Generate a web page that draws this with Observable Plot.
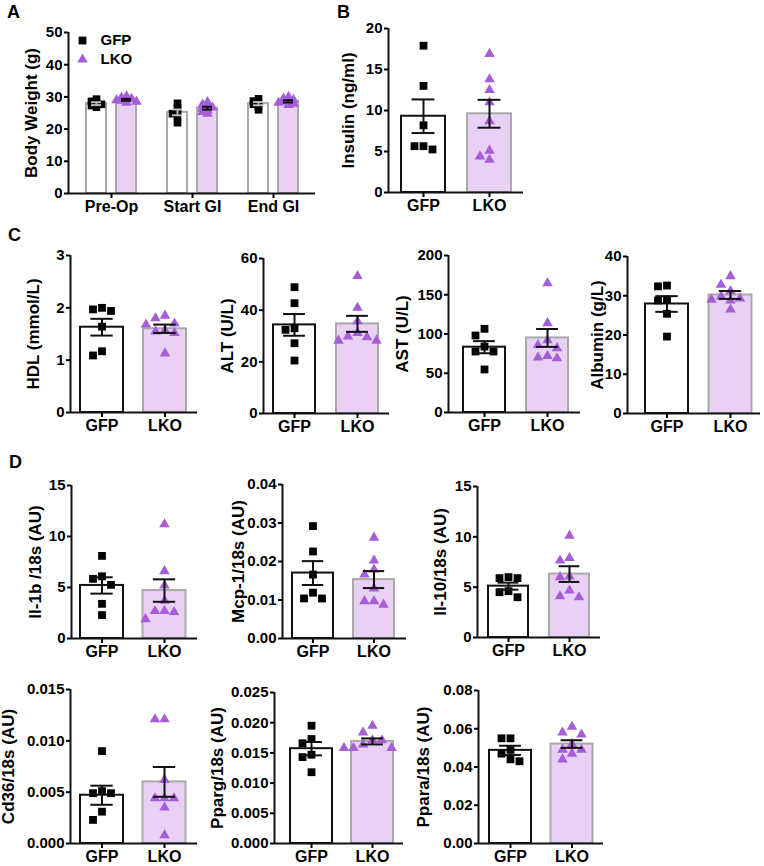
<!DOCTYPE html>
<html><head><meta charset="utf-8">
<script src="https://cdn.jsdelivr.net/npm/d3@7"></script>
<script src="https://cdn.jsdelivr.net/npm/@observablehq/plot@0.6"></script>
<style>
body{margin:0;background:#fff;}
#fig{position:relative;width:764px;height:866px;overflow:hidden;font-family:"Liberation Sans",Arial,sans-serif;font-weight:bold;color:#000;background:#fff}
.letter{position:absolute;font-size:18px;line-height:18px;font-weight:bold}
</style></head><body><div id="fig"></div>
<script>
// ---------------- DATA ----------------
const groups = ["GFP", "LKO"];
const timepoints = ["Pre-Op", "Start GI", "End GI"];
const panelLetters = ["A", "B", "C", "D"];

// A: body weight
const weightLabel = "Body Weight (g)";
const weightTicks = [0, 10, 20, 30, 40, 50];
const weightGFP = [[26.8, 27.3, 27.7, 28.1, 28.6, 29.3], [22.0, 23.8, 24.8, 25.6, 26.6, 28.0], [26.0, 27.0, 27.7, 28.3, 28.7, 29.4]];
const weightLKO = [[28.2, 28.5, 28.8, 29.0, 29.2, 29.4, 29.8, 30.2], [24.8, 25.3, 25.8, 26.3, 26.7, 27.2, 27.6, 28.4], [27.5, 27.9, 28.2, 28.5, 28.8, 29.1, 29.5, 30.0]];
const weightMeanGFP = [27.9, 25.2, 27.9];
const weightMeanLKO = [29.1, 26.5, 28.6];
const weightSemGFP = [0.45, 0.9, 0.5];
const weightSemLKO = [0.3, 0.45, 0.35];

// B: insulin
const insulinLabel = "Insulin (ng/ml)";
const insulinTicks = [0, 5, 10, 15, 20];
const insulinGFP = [17.9, 13.0, 8.2, 5.65, 5.25, 5.65];
const insulinLKO = [16.9, 13.8, 12.5, 11.0, 8.7, 5.1, 4.0, 4.4];
const insulinMean = [9.3, 9.6];
const insulinSem = [2.05, 1.7];

// C
const hdlLabel = "HDL (mmol/L)";
const hdlTicks = [0, 1, 2, 3];
const hdlGFP = [2.0, 1.94, 1.97, 1.64, 1.09, 1.17];
const hdlLKO = [1.85, 1.80, 1.70, 1.68, 1.57, 1.55, 1.52, 1.13];
const hdlMean = [1.63, 1.60];
const hdlSem = [0.16, 0.08];

const altLabel = "ALT (U/L)";
const altTicks = [0, 20, 40, 60];
const altGFP = [48.9, 42.7, 33.0, 32.4, 27.2, 20.5];
const altLKO = [53.2, 40.9, 35.7, 31.2, 29.8, 29.5, 28.2, 28.2];
const altMean = [34.3, 34.7];
const altSem = [4.2, 3.1];

const astLabel = "AST (U/L)";
const astTicks = [0, 50, 100, 150, 200];
const astGFP = [106.6, 98.1, 84.0, 77.7, 77.7, 54.8];
const astLKO = [164.7, 113.8, 92, 86, 82, 72, 69, 70];
const astMean = [83.2, 95.0];
const astSem = [7.7, 11.4];

const albLabel = "Albumin (g/L)";
const albTicks = [0, 10, 20, 30, 40];
const albGFP = [32.6, 32.4, 28.8, 29.0, 25.4, 19.6];
const albLKO = [35.0, 32.8, 31.2, 29.8, 29.3, 29.0, 28.8, 26.5];
const albMean = [27.9, 30.2];
const albSem = [2.0, 1.0];

// D
const il1bLabel = "Il-1b /18s (AU)";
const il1bTicks = [0, 5, 10, 15];
const il1bGFP = [8.1, 6.1, 5.85, 5.26, 3.4, 2.3];
const il1bLKO = [11.2, 6.6, 5.2, 3.7, 2.7, 2.6, 2.7, 1.9];
const il1bMean = [5.2, 4.7];
const il1bSem = [0.8, 1.1];

const mcp1Label = "Mcp-1/18s (AU)";
const mcp1Ticks = [0, 0.01, 0.02, 0.03, 0.04];
const mcp1GFP = [0.0292, 0.0226, 0.0166, 0.0119, 0.0104, 0.0104];
const mcp1LKO = [0.0262, 0.0203, 0.0179, 0.0166, 0.013, 0.0097, 0.0088, 0.0097];
const mcp1Mean = [0.0170, 0.0153];
const mcp1Sem = [0.0031, 0.0022];

const il10Label = "Il-10/18s (AU)";
const il10Ticks = [0, 5, 10, 15];
const il10GFP = [6.0, 5.9, 5.9, 4.6, 4.5, 4.0];
const il10LKO = [10.1, 7.65, 7.9, 6.06, 6.0, 4.67, 4.0, 4.1];
const il10Mean = [5.1, 6.3];
const il10Sem = [0.35, 0.78];

const cd36Label = "Cd36/18s (AU)";
const cd36Ticks = [0, 0.005, 0.010, 0.015];
const cd36GFP = [0.0090, 0.0049, 0.0051, 0.0049, 0.0031, 0.0023];
const cd36LKO = [0.0121, 0.0121, 0.0062, 0.0044, 0.0044, 0.0044, 0.0035, 0.0008];
const cd36Mean = [0.0047, 0.0060];
const cd36Sem = [0.00093, 0.00145];

const ppargLabel = "Pparg/18s (AU)";
const ppargTicks = [0, 0.005, 0.010, 0.015, 0.020, 0.025];
const ppargGFP = [0.0195, 0.0173, 0.0166, 0.0147, 0.0143, 0.0118];
const ppargLKO = [0.0195, 0.0184, 0.0171, 0.0171, 0.0164, 0.0158, 0.0158, 0.0158];
const ppargMean = [0.0157, 0.0169];
const ppargSem = [0.0011, 0.0005];

const pparaLabel = "Ppara/18s (AU)";
const pparaTicks = [0, 0.02, 0.04, 0.06, 0.08];
const pparaGFP = [0.055, 0.055, 0.049, 0.047, 0.044, 0.043];
const pparaLKO = [0.061, 0.058, 0.057, 0.052, 0.049, 0.049, 0.047, 0.044];
const pparaMean = [0.0487, 0.0520];
const pparaSem = [0.0024, 0.002];

// ---------------- STYLE / LAYOUT ----------------
const FONT = '"Liberation Sans", Arial, sans-serif';
const LAV = "#e9d1f6";
const PURPLE = "#a65ed8";
const GRAY = "#a9a9a9";
const INK = "#111";

const fig = document.getElementById("fig");
const ML = 80, MT = 14, MB = 36, MR = 6;

function place(geom, ymax, xdomain, marks) {
  const W = ML + (geom.ae - geom.ax) + MR;
  const H = MT + (geom.yz - geom.yt) + MB;
  const svg = Plot.plot({
    width: W, height: H,
    marginLeft: ML, marginRight: MR, marginTop: MT, marginBottom: MB,
    x: {type: "linear", domain: xdomain},
    y: {type: "linear", domain: [0, ymax]},
    style: {background: "transparent", overflow: "visible", fontFamily: FONT, fontWeight: "bold", color: "#000", maxWidth: "none"},
    marks
  });
  svg.style.position = "absolute";
  svg.style.left = (geom.ax - ML) + "px";
  svg.style.top = (geom.yt - MT) + "px";
  fig.appendChild(svg);
}

// simple deterministic dodge so that markers do not overlap (layout only)
function dodge(values, center, pxY, pxX, mX, mY) {
  const order = values.map((v, i) => i).sort((a, b) => values[b] - values[a]);
  const placed = [];
  const out = new Array(values.length);
  for (const i of order) {
    const py = values[i] * pxY;
    for (let k = 0; k < 50; k++) {
      const off = k === 0 ? 0 : (k % 2 ? -1 : 1) * Math.ceil(k / 2) * mX;
      if (placed.every(p => Math.abs(p.px - off) >= mX - 0.01 || Math.abs(p.py - py) >= mY - 0.01)) {
        placed.push({px: off, py});
        out[i] = {x: center + off / pxX, v: values[i]};
        break;
      }
    }
  }
  return out;
}

function errorbars(bars, xf, cap, color) {
  return [
    Plot.ruleX(bars, {x: xf, y1: d => d.mean - d.sem, y2: d => d.mean + d.sem, stroke: color, strokeWidth: 2}),
    Plot.ruleY(bars, {y: d => d.mean + d.sem, x1: d => xf(d) - cap, x2: d => xf(d) + cap, stroke: color, strokeWidth: 2}),
    Plot.ruleY(bars, {y: d => d.mean - d.sem, x1: d => xf(d) - cap, x2: d => xf(d) + cap, stroke: color, strokeWidth: 2})
  ];
}

function axes(lo, ticks, fmt, xticks, xfmt, g, label) {
  return [
    Plot.ruleY([0], {strokeWidth: 2, stroke: INK}),
    Plot.ruleX([lo], {strokeWidth: 2, stroke: INK}),
    Plot.axisY({ticks, tickFormat: fmt, tickSize: 4, tickPadding: 2, fontSize: 15, strokeWidth: 2, label: null}),
    Plot.axisX({ticks: xticks, tickFormat: xfmt, tickSize: 5, tickPadding: 2, fontSize: 16, strokeWidth: 2, label: null}),
    Plot.text([label], {text: d => d, frameAnchor: "left", dx: -(g.ax - g.lx), rotate: -90, fontSize: 17, textAnchor: "middle", lineAnchor: "middle"})
  ];
}

function twoGroup(p) {
  const g = p.geom;
  const s = g.c2 - g.c1;
  const lo = -(g.c1 - g.ax) / s, hi = 1 + (g.ae - g.c2) / s;
  const ymax = p.ticks[p.ticks.length - 1];
  const pxY = (g.yz - g.yt) / ymax;
  const half = g.bw / 2 / s, cap = half * 0.52;
  const bars = groups.map((name, i) => ({i, mean: p.mean[i], sem: p.sem[i]}));
  const ptsG = dodge(p.gfp, 0, pxY, s, 9, 9);
  const ptsL = dodge(p.lko, 1, pxY, s, 9.5, 9);
  place(g, ymax, [lo, hi], [
    Plot.rect([bars[0]], {x1: d => d.i - half, x2: d => d.i + half, y1: 0, y2: "mean", fill: "white", stroke: INK, strokeWidth: 2}),
    Plot.rect([bars[1]], {x1: d => d.i - half, x2: d => d.i + half, y1: 0, y2: "mean", fill: LAV, stroke: GRAY, strokeWidth: 2}),
    Plot.dot(ptsG, {x: "x", y: "v", symbol: "square", r: 4.4, fill: "#000"}),
    Plot.dot(ptsL, {x: "x", y: "v", symbol: "triangle", r: 3.9, fill: PURPLE}),
    ...errorbars(bars, d => d.i, cap, INK),
    ...axes(lo, p.ticks, p.fmt, [0, 1], i => groups[i], g, p.label)
  ]);
}

// ---------------- PANEL A ----------------
(function () {
  const g = {ax: 68, ae: 315, yt: 32, yz: 193, lx: 31};
  const step = 81, c0 = 111, off = 15 / step, half = 10 / step, cap = 5 / step;
  const lo = -(c0 - g.ax) / step, hi = 2 + (g.ae - (c0 + 2 * step)) / step;
  const ymax = weightTicks[weightTicks.length - 1];
  const pxY = (g.yz - g.yt) / ymax;
  const barsG = timepoints.map((t, i) => ({i, x: i - off, mean: weightMeanGFP[i], sem: weightSemGFP[i]}));
  const barsL = timepoints.map((t, i) => ({i, x: i + off, mean: weightMeanLKO[i], sem: weightSemLKO[i]}));
  const ptsG = timepoints.flatMap((t, i) => dodge(weightGFP[i], i - off, pxY, step, 5, 3));
  const ptsL = timepoints.flatMap((t, i) => dodge(weightLKO[i], i + off, pxY, step, 5, 3));
  place(g, ymax, [lo, hi], [
    Plot.rect(barsG, {x1: d => d.x - half, x2: d => d.x + half, y1: 0, y2: "mean", fill: "white", stroke: GRAY, strokeWidth: 2}),
    Plot.rect(barsL, {x1: d => d.x - half, x2: d => d.x + half, y1: 0, y2: "mean", fill: LAV, stroke: GRAY, strokeWidth: 2}),
    Plot.dot(ptsG, {x: "x", y: "v", symbol: "square", r: 4.3, fill: "#000"}),
    Plot.dot(ptsL, {x: "x", y: "v", symbol: "triangle", r: 3.9, fill: PURPLE}),
    ...errorbars(barsG, d => d.x, cap, "#bdbdbd"),
    ...errorbars(barsL, d => d.x, cap, INK),
    Plot.dot([groups[0]], {frameAnchor: "top-left", dx: 14, dy: 8, symbol: "square", r: 4.4, fill: "#000"}),
    Plot.text([groups[0]], {text: d => d, frameAnchor: "top-left", dx: 32, dy: 8, textAnchor: "start", lineAnchor: "middle", fontSize: 15}),
    Plot.dot([groups[1]], {frameAnchor: "top-left", dx: 14, dy: 27, symbol: "triangle", r: 3.9, fill: PURPLE}),
    Plot.text([groups[1]], {text: d => d, frameAnchor: "top-left", dx: 32, dy: 27, textAnchor: "start", lineAnchor: "middle", fontSize: 15}),
    ...axes(lo, weightTicks, d3.format("d"), [0, 1, 2], i => timepoints[i], g, weightLabel)
  ]);
})();

// ---------------- OTHER PANELS ----------------
const f0 = d3.format("d"), f2 = d3.format(".2f"), f3 = d3.format(".3f");
twoGroup({label: insulinLabel, ticks: insulinTicks, fmt: f0, gfp: insulinGFP, lko: insulinLKO, mean: insulinMean, sem: insulinSem,
  geom: {ax: 388, ae: 523, c1: 423, c2: 489, bw: 44, yt: 28, yz: 192, lx: 348}});
twoGroup({label: hdlLabel, ticks: hdlTicks, fmt: f0, gfp: hdlGFP, lko: hdlLKO, mean: hdlMean, sem: hdlSem,
  geom: {ax: 70, ae: 197, c1: 101.5, c2: 164.5, bw: 43, yt: 255, yz: 412, lx: 33}});
twoGroup({label: altLabel, ticks: altTicks, fmt: f0, gfp: altGFP, lko: altLKO, mean: altMean, sem: altSem,
  geom: {ax: 263, ae: 389, c1: 294, c2: 357, bw: 42, yt: 258, yz: 413, lx: 227}});
twoGroup({label: astLabel, ticks: astTicks, fmt: f0, gfp: astGFP, lko: astLKO, mean: astMean, sem: astSem,
  geom: {ax: 448, ae: 580, c1: 484, c2: 547, bw: 42, yt: 255, yz: 412, lx: 402}});
twoGroup({label: albLabel, ticks: albTicks, fmt: f0, gfp: albGFP, lko: albLKO, mean: albMean, sem: albSem,
  geom: {ax: 627, ae: 760, c1: 666.5, c2: 730, bw: 43, yt: 256, yz: 413, lx: 597}});
twoGroup({label: il1bLabel, ticks: il1bTicks, fmt: f0, gfp: il1bGFP, lko: il1bLKO, mean: il1bMean, sem: il1bSem,
  geom: {ax: 71, ae: 197, c1: 101.5, c2: 164, bw: 43, yt: 485, yz: 638, lx: 35}});
twoGroup({label: mcp1Label, ticks: mcp1Ticks, fmt: f2, gfp: mcp1GFP, lko: mcp1LKO, mean: mcp1Mean, sem: mcp1Sem,
  geom: {ax: 282, ae: 406, c1: 312.5, c2: 373.5, bw: 41, yt: 484, yz: 638, lx: 238}});
twoGroup({label: il10Label, ticks: il10Ticks, fmt: f0, gfp: il10GFP, lko: il10LKO, mean: il10Mean, sem: il10Sem,
  geom: {ax: 477, ae: 600, c1: 508, c2: 569, bw: 40, yt: 486, yz: 637, lx: 440}});
twoGroup({label: cd36Label, ticks: cd36Ticks, fmt: f3, gfp: cd36GFP, lko: cd36LKO, mean: cd36Mean, sem: cd36Sem,
  geom: {ax: 70, ae: 197, c1: 101.5, c2: 164, bw: 43, yt: 689, yz: 843, lx: 8}});
twoGroup({label: ppargLabel, ticks: ppargTicks, fmt: f3, gfp: ppargGFP, lko: ppargLKO, mean: ppargMean, sem: ppargSem,
  geom: {ax: 274, ae: 403, c1: 311, c2: 372, bw: 42, yt: 692, yz: 843, lx: 217}});
twoGroup({label: pparaLabel, ticks: pparaTicks, fmt: f2, gfp: pparaGFP, lko: pparaLKO, mean: pparaMean, sem: pparaSem,
  geom: {ax: 478, ae: 603, c1: 510, c2: 571.5, bw: 42, yt: 690, yz: 843, lx: 423}});

// panel letters
const letterPos = [[7, 3], [337, 3], [8, 226], [9, 453]];
panelLetters.forEach((L, i) => {
  const d = document.createElement("div");
  d.className = "letter";
  d.textContent = L;
  d.style.left = letterPos[i][0] + "px";
  d.style.top = letterPos[i][1] + "px";
  fig.appendChild(d);
});
</script></body></html>
